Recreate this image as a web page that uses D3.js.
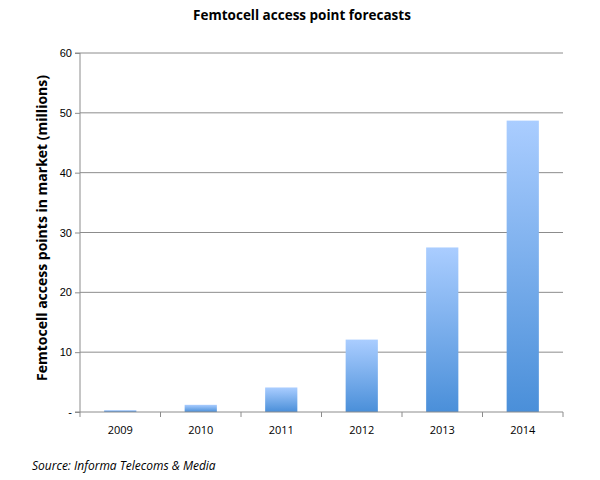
<!DOCTYPE html>
<html>
<head>
<meta charset="utf-8">
<script src="https://cdn.jsdelivr.net/npm/d3@7"></script>
<style>
  body { margin: 0; background: #fff; }
  svg { font-family: "Open Sans", "Liberation Sans", sans-serif; }
</style>
</head>
<body>
<svg width="600" height="480"></svg>
<script>
// данные графика
const years = ["2009", "2010", "2011", "2012", "2013", "2014"];
const values = [0.3, 1.2, 4.1, 12.1, 27.5, 48.7];
const yTicks = [0, 10, 20, 30, 40, 50, 60];

let svg = d3.select("svg");

let area = { left: 80, right: 563, top: 53, bottom: 412 };

let scX = d3.scaleBand()
    .domain(years)
    .range([area.left, area.right])
    .paddingInner(0.6)
    .paddingOuter(0.3);

let scY = d3.scaleLinear()
    .domain([0, 60])
    .range([area.bottom, area.top]);

// градиент столбцов
let grad = svg.append("defs").append("linearGradient")
    .attr("id", "barGrad")
    .attr("x1", 0).attr("y1", 0).attr("x2", 0).attr("y2", 1);
grad.append("stop").attr("offset", "0%").attr("stop-color", "#aacdff");
grad.append("stop").attr("offset", "100%").attr("stop-color", "#4a8fd9");

// сетка
svg.append("g")
    .selectAll("line")
    .data(yTicks.slice(1))
    .enter()
    .append("line")
    .attr("x1", area.left).attr("x2", area.right)
    .attr("y1", d => scY(d)).attr("y2", d => scY(d))
    .style("stroke", "#8c8c8c")
    .style("stroke-width", 1);

// столбцы
svg.append("g")
    .selectAll("rect")
    .data(values)
    .enter()
    .append("rect")
    .attr("x", (d, i) => scX(years[i]))
    .attr("y", d => scY(d))
    .attr("width", scX.bandwidth())
    .attr("height", d => scY(0) - scY(d))
    .style("fill", "url(#barGrad)");

// ось Y
let axisY = d3.axisLeft(scY)
    .tickValues(yTicks)
    .tickSize(5)
    .tickFormat(d => d === 0 ? "-" : d);
let gy = svg.append("g")
    .attr("transform", `translate(${area.left},0)`)
    .call(axisY);
gy.select(".domain").attr("d", `M-5,${area.top}H0V${area.bottom}`);

// ось X: деления между категориями
let step = scX.step();
let gx = svg.append("g")
    .attr("transform", `translate(0,${area.bottom})`);
gx.append("line")
    .attr("x1", area.left - 5).attr("x2", area.right)
    .attr("y1", 0).attr("y2", 0);
gx.selectAll(".tk")
    .data(d3.range(years.length + 1))
    .enter()
    .append("line")
    .attr("class", "tk")
    .attr("x1", i => area.left + i * step)
    .attr("x2", i => area.left + i * step)
    .attr("y1", 0).attr("y2", 5);
gx.selectAll("text")
    .data(years)
    .enter()
    .append("text")
    .attr("x", d => scX(d) + scX.bandwidth() / 2)
    .attr("y", 22)
    .attr("text-anchor", "middle")
    .style("font-size", "11px")
    .style("fill", "#000")
    .text(d => d);

svg.selectAll(".domain, .tick line, .tk, g > line")
    .style("stroke", "#8c8c8c");
gy.selectAll("text").style("font-size", "11px").style("fill", "#000");

// заголовки
svg.append("text")
    .attr("x", 302).attr("y", 20)
    .attr("text-anchor", "middle")
    .style("font-size", "13.5px")
    .style("font-weight", "bold")
    .text("Femtocell access point forecasts");

svg.append("text")
    .attr("transform", `translate(47,228) rotate(-90)`)
    .attr("text-anchor", "middle")
    .style("font-size", "14px")
    .style("font-weight", "bold")
    .text("Femtocell access points in market (millions)");

svg.append("text")
    .attr("x", 32).attr("y", 470)
    .style("font-size", "12px")
    .style("font-style", "italic")
    .text("Source: Informa Telecoms & Media");
</script>
</body>
</html>
